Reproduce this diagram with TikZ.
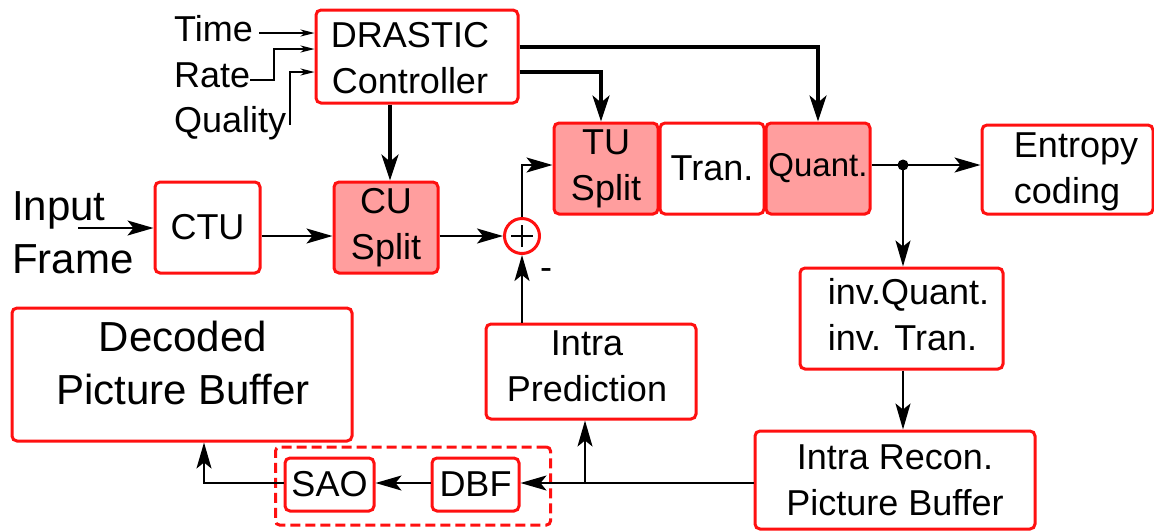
\documentclass[tikz,border=0pt]{standalone}
\usepackage{fontspec}
\setmainfont{Liberation Sans}
\usetikzlibrary{arrows.meta,calc}
\definecolor{boxred}{HTML}{FF1010}
\definecolor{boxpink}{HTML}{FF9E9E}
\begin{document}
\begin{tikzpicture}[x=1pt,y=-1pt,
  blk/.style={draw=boxred, line width=3pt, rounded corners=5pt, fill=white, inner sep=0pt, align=center, font=\fontsize{36}{46}\selectfont},
  pinkblk/.style={blk, fill=boxpink},
  lbl/.style={inner sep=0pt, font=\fontsize{36}{46}\selectfont},
  conn/.style={line width=1.8pt, -{Stealth[length=26pt,width=15pt,inset=6pt]}},
  thickconn/.style={line width=3.2pt, -{Stealth[length=26pt,width=17pt,inset=7pt]}},
  smallconn/.style={line width=1.3pt, -{Stealth[length=14pt,width=7pt,inset=4pt]}},
  grp/.style={draw=boxred, line width=3pt, rounded corners=4pt, dash pattern=on 10pt off 5pt, inner sep=0pt}
]
\useasboundingbox (0,0) rectangle (1154,531);

% boxes
\node[blk, minimum width=202pt, minimum height=93pt] (drastic) at (417,56.5) {};
\node[lbl, align=center] (drastict) at (410,58) {DRASTIC\\Controller};
\node[blk, minimum width=105pt, minimum height=91pt] (ctu) at (207.5,227.5) {CTU};
\node[pinkblk, minimum width=104pt, minimum height=91pt] (cu) at (386,227.5) {CU\\Split};
\node[pinkblk, minimum width=104pt, minimum height=91pt] (tu) at (606,168.5) {TU\\Split};
\node[blk, minimum width=104pt, minimum height=91pt] (tran) at (712,168.5) {Tran.};
\node[pinkblk, minimum width=104pt, minimum height=91pt] (quant) at (818,168.5) {{\fontsize{33}{40}\selectfont Quant.}};
\node[blk, minimum width=171pt, minimum height=89pt] (entropy) at (1067.5,169.5) {};
\node[lbl, align=left] (entropyt) at (1076,172) {Entropy\\coding};
\node[blk, minimum width=203pt, minimum height=101pt] (invq) at (901.5,318.5) {};
\node[lbl, align=left] (invqt) at (908.5,315) {inv.Quant.\\inv. Tran.};
\node[blk, minimum width=280pt, minimum height=98pt] (recon) at (895,480) {Intra Recon.\\Picture Buffer};
\node[blk, minimum width=340pt, minimum height=133pt] (dpb) at (182,374.5) {};
\node[lbl, align=center, font=\fontsize{42}{53}\selectfont] (dpbt) at (183,363) {Decoded\\Picture Buffer};
\node[blk, minimum width=210pt, minimum height=95pt] (ip) at (591,371.5) {};
\node[lbl, align=center] (ipt) at (587,366) {Intra\\Prediction};
\node[grp, minimum width=275pt, minimum height=78pt] (loop) at (413,486) {};
\node[blk, minimum width=89pt, minimum height=53pt] (sao) at (329.5,484.5) {SAO};
\node[blk, minimum width=87pt, minimum height=53pt] (dbf) at (475.5,484.5) {DBF};

% adder
\node[circle, draw=boxred, line width=3pt, fill=white, minimum size=35pt, inner sep=0pt] (plus) at (522,236) {};
\draw[line width=2.6pt] ([xshift=-11pt]plus.center) -- ([xshift=11pt]plus.center);
\draw[line width=2.6pt] ([yshift=-11pt]plus.center) -- ([yshift=11pt]plus.center);
\node[lbl] (minus) at (546,274) {-};

% free labels
\node[lbl, anchor=base west] (time) at (174,41) {Time};
\node[lbl, anchor=base west] (rate) at (174,87) {Rate};
\node[lbl, anchor=base west] (quality) at (174,132) {Quality};
\node[lbl, align=left, anchor=west, font=\fontsize{42}{53}\selectfont] (input) at (12,233) {Input\\Frame};

\coordinate (tin) at (259,33);
\coordinate (rin) at (250,80);
\coordinate (qin) at (290,125);
\coordinate (iin) at (78,228);
\coordinate (dot) at (903,165);
\coordinate (split) at (585,483);

% control inputs
\draw[smallconn] (tin) -- (tin -| drastic.west);
\draw[smallconn] (rin) -- ++(24,0) |- (drastic.west |- 0,49);
\draw[smallconn] (qin) |- (drastic.west |- 0,72);

% controller outputs
\draw[thickconn] (drastic.south -| 390,0) -- (cu.north -| 390,0);
\draw[thickconn] (drastic.east |- 0,72) -| (tu.north -| 601,0);
\draw[thickconn] (drastic.east |- 0,47) -| (quant.north);

% main path
\draw[conn] (iin) -- (iin -| ctu.west);
\draw[conn] (ctu.east |- 0,236) -- (cu.west |- 0,236);
\draw[conn] (cu.east |- 0,236) -- (plus.west);
\draw[conn] (plus.north) |- (tu.west |- 0,165);
\draw[conn] (ip.north -| plus) -- (plus.south);
\draw[line width=1.8pt] (quant.east |- dot) -- (dot);
\fill (dot) circle (5.5pt);
\draw[conn] (dot) -- (entropy.west |- dot);
\draw[conn] (dot) -- (dot |- invq.north);
\draw[conn] (invq.south -| dot) -- (dot |- recon.north);
\draw[conn] (recon.west |- split) -- (dbf.east |- split);
\draw[conn] (split) -- (ip.south -| split);
\draw[conn] (dbf.west |- split) -- (sao.east |- split);
\draw[conn] (sao.west |- split) -| (dpb.south -| 204,0);
\end{tikzpicture}
\end{document}
